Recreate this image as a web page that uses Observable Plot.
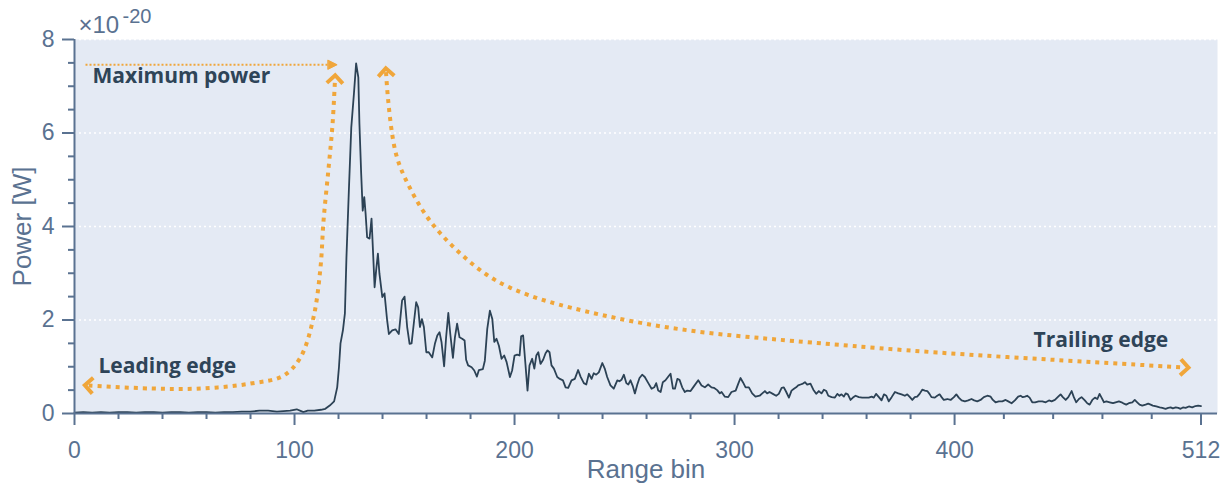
<!DOCTYPE html>
<html>
<head>
<meta charset="utf-8">
<script src="https://cdn.jsdelivr.net/npm/d3@7"></script>
<script src="https://cdn.jsdelivr.net/npm/@observablehq/plot@0.6"></script>
<style>
  html, body { margin: 0; padding: 0; background: #ffffff; }
  #chart svg { display: block; }
</style>
</head>
<body>
<div id="chart"></div>
<script>
// ---- Data ----
const bins = [0,4,8,12,16,20,24,28,32,36,40,44,48,52,56,60,64,68,72,76,80,84,88,92,95,98,101,103,104,106,109,112,114,116,118,
119.4,120.2,120.9,122,122.9,123.6,124.7,125.8,127,128,129,129.5,130.3,131,131.7,132.3,133,134.1,135,135.8,136.4,137.1,137.9,138.6,139.9,140.9,142.1,142.9,144.4,145.9,147.4,
148.9,150,151.2,152.3,153.2,154.2,155.3,156.2,157,157.9,158.8,159.9,161,162.6,163.8,164.9,165.9,166.8,168,168.9,169.9,170.8,172,172.9,173.9,175,176.2,177.3,178,178.9,180.5,181.7,182.9,183.8,185.6,186.5,187.6,188.8,189.9,190.8,191.8,192.9,194.1,195.3,196.4,197.9,198.9,
200,201.2,202.3,203,203.9,205,205.9,206.8,208,209,209.9,210.8,211.8,213,214.1,215,215.9,216.8,217.9,219.4,220.6,222,223.2,224.4,225.9,227.4,228.9,230,231.5,232.6,233.8,235,236,237.1,238.3,239.9,241,242.1,243.6,245.1,246.7,247.7,248.6,249.7,
250.8,251.7,252.7,253.8,254.7,255.8,256.8,258,259.2,260.8,262.3,263.5,264.4,265.3,266.4,267.4,268.6,269.9,270.9,272,272.9,274,275,276.2,277.4,278.5,280,281.5,283.5,285,286.5,288,289.5,290.6,292.1,293.3,294.1,295.6,297.1,298.6,
300.5,301.7,302.7,303.8,305,306.5,308,309.5,311.4,312.6,313.8,314.8,315.9,317.4,318.9,320.1,321.4,322.4,323.5,324.7,325.9,327,328,328.9,330,331.1,332,333,334.5,335.8,337.1,338.3,339.5,340.6,341.7,342.6,344.1,345.6,346.7,347.7,348.6,349.7,
350.5,351.5,352.7,353.8,355,356.5,358,359.5,361,362.3,363.3,364.3,365.6,366.8,367.9,369,370.1,371.4,372.9,374.4,375.9,377.4,378.5,379.5,380.8,381.9,383,384.1,385.3,386.5,387.6,388.6,389.5,391,392.1,393.2,394.1,395.1,396.7,398.2,399.7,
400.8,401.9,403.2,404.7,406.2,407.7,408.9,410.3,411.8,413.3,414.9,416.4,417.4,418.6,420.1,421.7,423.2,424.4,425.9,427.4,428.9,430,431,432,433,434.1,435.3,436.6,438.2,439.9,441.4,442.9,444.1,445.6,447.1,448.2,449.2,
450.5,451.7,453.2,454.2,455.3,456.5,457.7,459.2,460.3,461.4,462.6,463.8,464.9,465.9,466.8,467.9,469,470.5,472,473.2,474.7,475.9,477,478,479.2,480.8,481.9,483,484.1,485.3,486.8,488,489.1,490.1,491.7,493.2,494.4,495.9,497.1,498.2,499.2,
500.5,501.7,502.7,503.8,505,506.5,508,509.5,510.7,512];

// power in units of 1e-20 W
const power = [0.02,0.03,0.02,0.03,0.02,0.03,0.03,0.02,0.03,0.03,0.02,0.03,0.03,0.02,0.03,0.03,0.02,0.03,0.03,0.04,0.04,0.06,0.06,0.04,0.05,0.06,0.09,0.05,0.03,0.06,0.06,0.08,0.10,0.17,0.26,
0.56,0.99,1.50,1.78,2.14,3.34,4.77,6.12,6.84,7.49,7.19,6.20,5.13,4.34,4.63,4.28,3.77,3.74,4.17,3.34,2.70,3.06,3.42,2.99,2.49,2.57,1.99,1.70,1.78,1.80,1.70,
2.42,2.50,1.85,1.49,1.50,1.92,2.38,2.27,1.85,2.02,1.85,1.31,1.31,1.20,1.49,1.67,1.74,1.53,1.01,1.63,2.15,1.70,1.19,1.63,1.92,1.63,1.60,1.56,1.15,1.03,0.99,0.92,0.79,0.93,0.95,1.13,1.81,2.20,2.02,1.53,1.60,1.45,1.17,1.24,1.10,0.78,0.92,
1.24,1.26,1.24,1.65,1.67,1.03,0.49,1.03,1.17,0.96,1.24,1.31,1.06,1.15,1.29,1.35,1.31,1.03,0.96,0.78,0.74,0.71,0.56,0.55,0.71,0.74,0.93,0.79,0.65,0.62,0.85,0.74,0.86,0.83,0.88,1.08,0.96,0.78,0.60,0.53,0.71,0.69,0.72,0.83,
0.65,0.62,0.71,0.58,0.43,0.62,0.76,0.83,0.78,0.65,0.53,0.56,0.65,0.49,0.46,0.67,0.71,0.79,0.85,0.53,0.53,0.74,0.72,0.56,0.46,0.49,0.48,0.58,0.71,0.60,0.56,0.62,0.56,0.55,0.50,0.43,0.46,0.36,0.35,0.46,
0.49,0.64,0.76,0.67,0.56,0.56,0.43,0.36,0.38,0.43,0.48,0.43,0.46,0.42,0.38,0.42,0.55,0.56,0.46,0.34,0.49,0.53,0.56,0.60,0.62,0.64,0.67,0.62,0.64,0.51,0.42,0.48,0.43,0.51,0.48,0.38,0.35,0.34,0.42,0.38,0.41,0.36,
0.43,0.41,0.29,0.34,0.38,0.35,0.34,0.34,0.34,0.36,0.34,0.42,0.35,0.28,0.41,0.38,0.26,0.35,0.46,0.43,0.41,0.38,0.41,0.36,0.29,0.35,0.36,0.42,0.51,0.49,0.48,0.42,0.35,0.34,0.38,0.41,0.35,0.29,0.31,0.29,0.35,
0.41,0.34,0.28,0.26,0.28,0.31,0.28,0.26,0.29,0.35,0.38,0.36,0.29,0.24,0.26,0.26,0.29,0.26,0.22,0.28,0.36,0.38,0.35,0.36,0.38,0.34,0.24,0.24,0.26,0.26,0.24,0.28,0.26,0.29,0.36,0.41,0.35,
0.29,0.35,0.48,0.35,0.24,0.31,0.35,0.28,0.22,0.19,0.29,0.34,0.31,0.42,0.34,0.24,0.26,0.24,0.22,0.24,0.26,0.24,0.21,0.19,0.22,0.24,0.29,0.24,0.19,0.17,0.19,0.21,0.19,0.17,0.15,0.13,0.12,0.10,0.12,0.13,0.11,
0.13,0.12,0.10,0.13,0.12,0.15,0.13,0.16,0.17,0.16];

// Axis ticks
const xMajorTicks = [0, 100, 200, 300, 400, 512];
const xMinorTicks = [20,40,60,80,120,140,160,180,220,240,260,280,320,340,360,380,422.4,444.8,467.2,489.6];
const yMajorTicks = [0, 2, 4, 6, 8];
const yMinorTicks = [0.5,1,1.5,2.5,3,3.5,4.5,5,5.5,6.5,7,7.5];

// Annotation paths (data coordinates: bin, power)
const maxPowerArrowX = [5, 118];
const maxPowerArrowY = [7.46, 7.46];
const leadingEdgeX = [6.5, 34.5, 57.3, 80, 95, 102.7, 108.6, 111.8, 113.2, 115.5, 117.3, 118.4];
const leadingEdgeY = [0.60, 0.535, 0.535, 0.64, 0.81, 1.20, 2.05, 3.12, 4.13, 5.26, 6.20, 7.15];
const trailingEdgeX = [141.6, 142.1, 143.6, 145.9, 151.2, 158.6, 167.7, 178.6, 190.5, 205.9, 224.1, 254.1, 284.5, 315, 339, 390.5, 451.4, 504.5];
const trailingEdgeY = [7.30, 6.91, 6.20, 5.48, 4.92, 4.28, 3.76, 3.27, 2.84, 2.52, 2.27, 1.95, 1.73, 1.60, 1.50, 1.30, 1.13, 0.985];
const annotationLabels = ["Maximum power", "Leading edge", "Trailing edge"];
const annotationX = [8.2, 10.9, 435.9];
const annotationY = [7.08, 0.877, 1.433];

// ---- Build tables ----
const data = bins.map((b, i) => ({bin: b, power: power[i]}));
const toPts = (xs, ys) => xs.map((x, i) => ({px: x, py: ys[i]}));
const labels = annotationLabels.map((t, i) => ({t, lx: annotationX[i], ly: annotationY[i]}));

const axisColor = "#5a7291";
const lineColor = "#2c4255";
const orange = "#f0a63a";
const orangeThin = "#f0a63b";
const bg = "#e4eaf4";

const chart = Plot.plot({
  width: 1227,
  height: 488,
  marginTop: 39,
  marginBottom: 75,
  marginLeft: 74,
  marginRight: 10,
  style: {fontFamily: "'Liberation Sans', Arial, sans-serif", background: "#ffffff", overflow: "visible"},
  x: {domain: [0, 519.5], label: null},
  y: {domain: [0, 8], label: null},
  marks: [
    Plot.frame({fill: bg, stroke: null}),
    Plot.gridY(yMajorTicks.filter(d => d > 0), {stroke: "#ffffff", strokeOpacity: 1, strokeWidth: 1.6, strokeDasharray: "2,3"}),
    // annotations
    Plot.line(toPts(maxPowerArrowX, maxPowerArrowY), {x: "px", y: "py", stroke: orangeThin, strokeWidth: 2, strokeDasharray: "2,2", strokeLinecap: "butt", markerEnd: "arrow"}),
    Plot.line(toPts(leadingEdgeX, leadingEdgeY), {x: "px", y: "py", curve: "catmull-rom", stroke: orange, strokeWidth: 4, strokeDasharray: "4,5", strokeLinecap: "butt", markerStart: "arrow-reverse", markerEnd: "arrow"}),
    Plot.line(toPts(trailingEdgeX, trailingEdgeY), {x: "px", y: "py", curve: "basis", stroke: orange, strokeWidth: 4, strokeDasharray: "4,5", strokeLinecap: "butt", markerStart: "arrow-reverse", markerEnd: "arrow"}),
    // signal
    Plot.line(data, {x: "bin", y: "power", stroke: lineColor, strokeWidth: 1.8}),
    Plot.text(labels, {x: "lx", y: "ly", text: "t", textAnchor: "start", lineAnchor: "bottom", fill: "#2e4458", fontSize: 21, fontWeight: "bold", fontFamily: "'Open Sans', 'Noto Sans', sans-serif"}),
    // axes
    Plot.ruleY([0], {stroke: axisColor, strokeWidth: 2}),
    Plot.ruleX([0], {stroke: axisColor, strokeWidth: 2}),
    Plot.axisX(xMajorTicks, {tickSize: 12, tickPadding: 16, fontSize: 23, color: axisColor, strokeWidth: 2, label: null, tickFormat: d => String(d)}),
    Plot.axisX(xMinorTicks, {tickSize: 6, tickFormat: () => "", color: axisColor, strokeWidth: 2, label: null}),
    Plot.axisY(yMajorTicks, {tickSize: 12, tickPadding: 8, fontSize: 23, color: axisColor, strokeWidth: 2, label: null}),
    Plot.axisY(yMinorTicks, {tickSize: 6, tickFormat: () => "", color: axisColor, strokeWidth: 2, label: null}),
    // axis titles
    Plot.text(["Range bin"], {frameAnchor: "bottom", dy: 64, lineAnchor: "bottom", fontSize: 26, fill: axisColor}),
    Plot.text(["Power [W]"], {frameAnchor: "left", dx: -52, rotate: -90, textAnchor: "middle", lineAnchor: "middle", fontSize: 26, fill: axisColor}),
    Plot.text(["×10"], {frameAnchor: "top-left", dx: 4, dy: -7, textAnchor: "start", lineAnchor: "bottom", fontSize: 24, fill: axisColor}),
    Plot.text(["-20"], {frameAnchor: "top-left", dx: 48, dy: -17, textAnchor: "start", lineAnchor: "bottom", fontSize: 20, fill: axisColor})
  ]
});

// Arrowhead styling (larger chevrons on the thick curves, small filled head on the thin line)
chart.querySelectorAll("marker").forEach(m => {
  const s = m.getAttribute("stroke");
  m.setAttribute("stroke-dasharray", "none");
  if (s === orangeThin) {
    m.setAttribute("markerUnits", "userSpaceOnUse");
    m.setAttribute("viewBox", "-8 -8 16 16");
    m.setAttribute("markerWidth", 16);
    m.setAttribute("markerHeight", 16);
    m.setAttribute("fill", orangeThin);
    m.setAttribute("stroke-width", 1);
    m.querySelectorAll("path").forEach(p => p.setAttribute("d", "M-6,-4.5L3,0L-6,4.5Z"));
  } else if (s === orange) {
    m.setAttribute("markerUnits", "userSpaceOnUse");
    m.setAttribute("viewBox", "-14 -14 28 28");
    m.setAttribute("markerWidth", 28);
    m.setAttribute("markerHeight", 28);
    m.setAttribute("fill", "none");
    m.setAttribute("stroke-width", 4);
    m.setAttribute("stroke-linecap", "butt");
    m.setAttribute("stroke-linejoin", "miter");
    m.querySelectorAll("path").forEach(p => p.setAttribute("d", "M-4,-8L4,0L-4,8"));
  }
});

document.getElementById("chart").appendChild(chart);
</script>
</body>
</html>
